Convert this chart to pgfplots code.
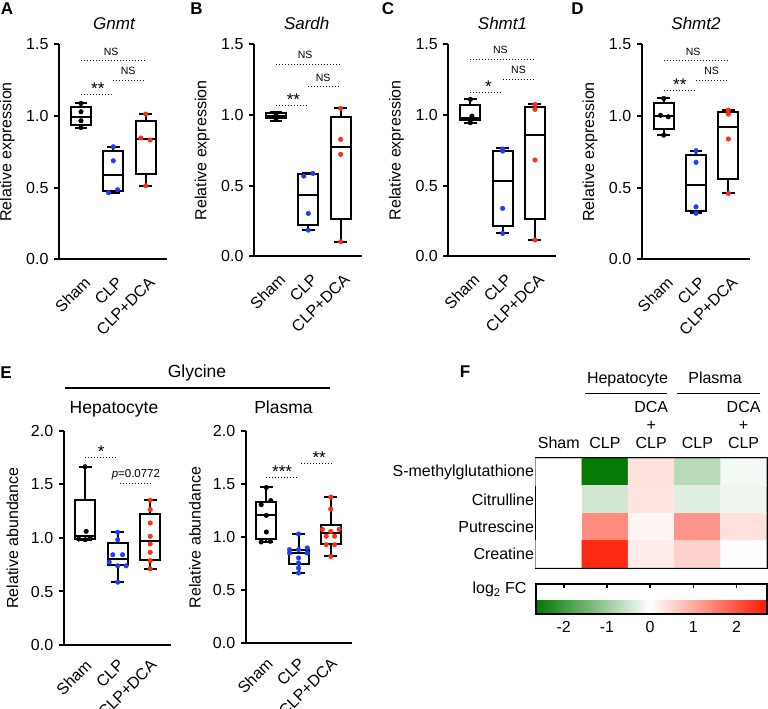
\documentclass[border=0pt]{standalone}
\usepackage{fontspec}
\setmainfont{Liberation Sans}
\usepackage{pgfplots}
\pgfplotsset{compat=1.18}
\usepgfplotslibrary{statistics}
\definecolor{cblue}{RGB}{30,60,255}
\definecolor{cred}{RGB}{255,45,20}
\pgfplotsset{
 bx/.style={
   scale only axis, width=108pt,
   axis lines=left, axis line style={line width=2pt,-},
   xmin=-0.68, xmax=2.66, ymin=0,
   xtick={0,1,2}, xticklabels={Sham,CLP,CLP+DCA},
   xticklabel style={rotate=45, anchor=north east, xshift=-1pt, yshift=-4pt},
   xtick style={draw=none},
   ytick style={line width=2pt, black},
   major tick length=5pt, tick align=outside,
   yticklabel style={/pgf/number format/.cd, fixed, fixed zerofill, precision=1},
   /pgf/number format/assume math mode=true,
   ylabel style={at={(axis description cs:-0.48,0.5)}, anchor=center},
   clip=false,
   boxplot/draw direction=y,
   boxplot/box extend=0.62,
   boxplot/whisker extend=0.4,
 },
 bxp/.style={black, line width=2pt, solid},
 dots/.style={only marks, mark=*, mark size=2.3pt},
}
\tikzset{
 sig/.style={line width=1.1pt, dash pattern=on 1.1pt off 1.9pt},
 star/.style={anchor=base, font=\fontsize{17}{17}\selectfont, inner sep=0pt},
 ns/.style={anchor=base, font=\fontsize{10.5}{11}\selectfont, yshift=5.5pt, inner sep=0pt},
 ttl/.style={anchor=base, font=\fontsize{17}{19}\selectfont},
 etl/.style={anchor=base, font=\fontsize{17.5}{19}\selectfont},
 letter/.style={anchor=base, font=\fontsize{17}{17}\selectfont\bfseries},
}
\begin{document}
\fontsize{16}{19}\selectfont
\begin{tikzpicture}[x=1pt,y=1pt]
\path[use as bounding box] (0,0) rectangle (768,709);

% ---------------- Panel A
\begin{axis}[bx, at={(59pt,449.6pt)}, anchor=south west, height=215pt, ymax=1.5,
  ytick={0,0.5,1,1.5}, ylabel={Relative expression}]
\addplot[bxp, boxplot prepared={draw position=0, lower whisker=0.92, lower quartile=0.937, median=0.995, upper quartile=1.065, upper whisker=1.088}] coordinates {};
\addplot[bxp, boxplot prepared={draw position=1, lower whisker=0.465, lower quartile=0.477, median=0.588, upper quartile=0.756, upper whisker=0.786}] coordinates {};
\addplot[bxp, boxplot prepared={draw position=2, lower whisker=0.514, lower quartile=0.595, median=0.84, upper quartile=0.965, upper whisker=1.014}] coordinates {};
\addplot[dots, black] coordinates {(0,1.088) (0,1.03) (0,0.967) (0,0.92)};
\addplot[dots, cblue] coordinates {(1,0.786) (1,0.688) (1.13,0.486) (0.85,0.465)};
\addplot[dots, cred] coordinates {(2,1.014) (1.85,0.847) (2.14,0.833) (2,0.514)};
\draw[sig] (axis cs:0,1.153) -- (axis cs:1,1.153);
\node[star] at (axis cs:0.52,1.153) {**};
\draw[sig] (axis cs:0,1.386) -- (axis cs:2,1.386);
\node[ns] at (axis cs:0.93,1.386) {NS};
\draw[sig] (axis cs:1,1.251) -- (axis cs:2,1.251);
\node[ns] at (axis cs:1.46,1.251) {NS};
\end{axis}

% ---------------- Panel B
\begin{axis}[bx, at={(254pt,452.6pt)}, anchor=south west, height=212pt, ymax=1.5,
  ytick={0,0.5,1,1.5}, ylabel={Relative expression}]
\addplot[bxp, boxplot prepared={draw position=0, lower whisker=0.96, lower quartile=0.976, median=0.993, upper quartile=1.012, upper whisker=1.024}] coordinates {};
\addplot[bxp, boxplot prepared={draw position=1, lower whisker=0.186, lower quartile=0.222, median=0.434, upper quartile=0.58, upper whisker=0.587}] coordinates {};
\addplot[bxp, boxplot prepared={draw position=2, lower whisker=0.104, lower quartile=0.264, median=0.776, upper quartile=0.983, upper whisker=1.047}] coordinates {};
\addplot[dots, black] coordinates {(0,1.01) (0,0.995) (0,0.99) (0,0.975)};
\addplot[dots, cblue] coordinates {(0.86,0.568) (1.14,0.587) (1,0.304) (1,0.186)};
\addplot[dots, cred] coordinates {(2,1.047) (2,0.828) (2,0.722) (2,0.104)};
\draw[sig] (axis cs:0,1.066) -- (axis cs:1,1.066);
\node[star] at (axis cs:0.54,1.066) {**};
\draw[sig] (axis cs:0,1.358) -- (axis cs:2,1.358);
\node[ns] at (axis cs:0.9,1.358) {NS};
\draw[sig] (axis cs:1,1.2) -- (axis cs:2,1.2);
\node[ns] at (axis cs:1.46,1.2) {NS};
\end{axis}

% ---------------- Panel C
\begin{axis}[bx, at={(448.3pt,452.6pt)}, anchor=south west, height=212pt, ymax=1.5,
  ytick={0,0.5,1,1.5}, ylabel={Relative expression}]
\addplot[bxp, boxplot prepared={draw position=0, lower whisker=0.946, lower quartile=0.965, median=0.98, upper quartile=1.071, upper whisker=1.111}] coordinates {};
\addplot[bxp, boxplot prepared={draw position=1, lower whisker=0.163, lower quartile=0.217, median=0.533, upper quartile=0.748, upper whisker=0.769}] coordinates {};
\addplot[bxp, boxplot prepared={draw position=2, lower whisker=0.116, lower quartile=0.264, median=0.858, upper quartile=1.059, upper whisker=1.075}] coordinates {};
\addplot[dots, black] coordinates {(0,1.111) (0.05,0.993) (0,0.965) (0,0.946)};
\addplot[dots, cblue] coordinates {(1,0.76) (1,0.745) (1,0.34) (1,0.163)};
\addplot[dots, cred] coordinates {(2,1.075) (2,1.04) (2,0.682) (2,0.116)};
\draw[sig] (axis cs:0,1.158) -- (axis cs:1,1.158);
\node[star] at (axis cs:0.56,1.158) {*};
\draw[sig] (axis cs:0,1.394) -- (axis cs:2,1.394);
\node[ns] at (axis cs:0.93,1.394) {NS};
\draw[sig] (axis cs:1,1.252) -- (axis cs:2,1.252);
\node[ns] at (axis cs:1.49,1.252) {NS};
\end{axis}

% ---------------- Panel D
\begin{axis}[bx, at={(641.7pt,449.6pt)}, anchor=south west, height=215pt, ymax=1.5,
  ytick={0,0.5,1,1.5}, ylabel={Relative expression}]
\addplot[bxp, boxplot prepared={draw position=0, lower whisker=0.867, lower quartile=0.907, median=1.0, upper quartile=1.088, upper whisker=1.123}] coordinates {};
\addplot[bxp, boxplot prepared={draw position=1, lower whisker=0.321, lower quartile=0.337, median=0.519, upper quartile=0.728, upper whisker=0.758}] coordinates {};
\addplot[bxp, boxplot prepared={draw position=2, lower whisker=0.46, lower quartile=0.56, median=0.926, upper quartile=1.03, upper whisker=1.042}] coordinates {};
\addplot[dots, black] coordinates {(0,1.123) (-0.1,1.005) (0.14,0.995) (0,0.867)};
\addplot[dots, cblue] coordinates {(1,0.758) (1,0.677) (1,0.367) (1,0.321)};
\addplot[dots, cred] coordinates {(2,1.042) (2,1.014) (2,0.84) (2,0.46)};
\draw[sig] (axis cs:0,1.177) -- (axis cs:1,1.177);
\node[star] at (axis cs:0.5,1.177) {**};
\draw[sig] (axis cs:0,1.386) -- (axis cs:2,1.386);
\node[ns] at (axis cs:0.91,1.386) {NS};
\draw[sig] (axis cs:1,1.251) -- (axis cs:2,1.251);
\node[ns] at (axis cs:1.48,1.251) {NS};
\end{axis}

% titles and letters A-D
\node[ttl] at (114,679) {\itshape Gnmt};
\node[ttl] at (306.7,679) {\itshape Sardh};
\node[ttl] at (502.5,679) {\itshape Shmt1};
\node[ttl] at (696,679) {\itshape Shmt2};
\node[letter] at (7,694) {A};
\node[letter] at (196.5,694) {B};
\node[letter] at (388,694) {C};
\node[letter] at (577.5,694) {D};

% ---------------- Panel E left
\begin{axis}[bx, at={(63.7pt,64pt)}, anchor=south west, height=214pt, ymax=2, width=107pt,
  xmin=-0.66, xmax=2.63, xticklabel style={yshift=4pt},
  ytick={0,0.5,1,1.5,2}, ylabel={Relative abundance}]
\addplot[bxp, boxplot prepared={draw position=0, lower whisker=0.984, lower quartile=0.995, median=1.02, upper quartile=1.353, upper whisker=1.666}] coordinates {};
\addplot[bxp, boxplot prepared={draw position=1, lower whisker=0.5875, lower quartile=0.75, median=0.803, upper quartile=0.953, upper whisker=1.053}] coordinates {};
\addplot[bxp, boxplot prepared={draw position=2, lower whisker=0.7125, lower quartile=0.797, median=0.975, upper quartile=1.228, upper whisker=1.353}] coordinates {};
\addplot[dots, black] coordinates {(0,1.666) (0.03,1.062) (-0.2,0.99) (0.15,1.0) (0,0.984)};
\addplot[dots, cblue] coordinates {(1,1.053) (1,0.984) (0.85,0.844) (1.15,0.844) (0.74,0.775) (1,0.74) (1.26,0.74) (1,0.5875)};
\addplot[dots, cred] coordinates {(2,1.353) (2,1.266) (2,1.14) (2,1.016) (2,0.944) (2,0.866) (2,0.788) (2,0.7125)};
\draw[sig] (axis cs:0,1.756) -- (axis cs:1,1.756);
\node[star] at (axis cs:0.49,1.756) {*};
\draw[sig] (axis cs:1.08,1.506) -- (axis cs:2.08,1.506);
\node[anchor=base, font=\fontsize{11.5}{12}\selectfont, yshift=6pt, inner sep=0pt] at (axis cs:1.56,1.506) {\textit{p}=0.0772};
\end{axis}

% ---------------- Panel E right
\begin{axis}[bx, at={(245.7pt,65.7pt)}, anchor=south west, height=212pt, ymax=2, width=106pt,
  xmin=-0.64, xmax=2.65, xticklabel style={yshift=4pt},
  ytick={0,0.5,1,1.5,2}, ylabel={Relative abundance}]
\addplot[bxp, boxplot prepared={draw position=0, lower whisker=0.956, lower quartile=0.987, median=1.207, upper quartile=1.333, upper whisker=1.47}] coordinates {};
\addplot[bxp, boxplot prepared={draw position=1, lower whisker=0.663, lower quartile=0.748, median=0.852, upper quartile=0.884, upper whisker=1.031}] coordinates {};
\addplot[bxp, boxplot prepared={draw position=2, lower whisker=0.82, lower quartile=0.937, median=1.04, upper quartile=1.119, upper whisker=1.38}] coordinates {};
\addplot[dots, black] coordinates {(0,1.47) (-0.16,1.308) (0.14,1.346) (0,1.207) (0,1.05) (-0.16,0.956) (0.12,0.962)};
\addplot[dots, cblue] coordinates {(1,1.031) (0.72,0.884) (1,0.884) (1.27,0.9) (0.72,0.852) (1.27,0.852) (1,0.805) (1,0.758) (1,0.71) (1,0.663)};
\addplot[dots, cred] coordinates {(2,1.38) (2,1.267) (1.74,1.075) (2,1.055) (2.26,1.075) (1.86,1.01) (2.12,1.01) (1.86,0.93) (2.12,0.93) (2,0.82)};
\draw[sig] (axis cs:0,1.566) -- (axis cs:1,1.566);
\node[star] at (axis cs:0.49,1.566) {***};
\draw[sig] (axis cs:1.08,1.692) -- (axis cs:2.09,1.692);
\node[star] at (axis cs:1.64,1.692) {**};
\end{axis}

% E headers
\node[letter] at (6,330) {E};
\node[etl] at (197,331) {Glycine};
\draw[line width=1.3pt] (65,321) -- (330,321);
\node[etl] at (114,295) {Hepatocyte};
\node[etl] at (283.5,295) {Plasma};

% ---------------- Panel F heatmap
\begin{axis}[at={(535.7pt,141.3pt)}, anchor=south west, scale only axis,
  width=231pt, height=109.4pt,
  xmin=-0.5, xmax=4.5, ymin=-0.5, ymax=3.5, y dir=reverse,
  xtick=\empty, ytick={0,1,2,3},
  yticklabels={S-methylglutathione, Citrulline, Putrescine, Creatine},
  ytick style={draw=none}, yticklabel style={inner xsep=1.5pt},
  axis line style={line width=2.2pt},
  colormap={gwr}{rgb255(0cm)=(0,120,0); rgb255(2.65cm)=(255,255,255); rgb255(5.35cm)=(255,25,0)},
  point meta min=-2.65, point meta max=2.70,
  colorbar horizontal,
  colorbar style={at={(parent axis.south west)}, anchor=north west, yshift=-8pt,
    scale only axis, width=231pt, height=30pt,
    xtick={-2,-1,0,1,2}, xtick pos=right, xticklabel pos=left,
    major tick length=4pt, tick align=inside,
    xtick style={black, line width=1.5pt},
    axis line style={line width=2.2pt},
    /pgf/number format/assume math mode=true,
    xticklabel style={yshift=-2pt}},
]
\addplot[matrix plot*, mesh/cols=5, point meta=explicit] table[meta=c] {
x y c
0 0 0
1 0 -2.6
2 0 0.35
3 0 -0.73
4 0 -0.12
0 1 0
1 1 -0.47
2 1 0.32
3 1 -0.31
4 1 -0.18
0 2 0
1 2 1.35
2 2 0.12
3 2 1.24
4 2 0.35
0 3 0
1 3 2.5
2 3 0.23
3 3 0.54
4 3 0.02
};
\end{axis}

% F headers
\node[letter] at (465,331) {F};
\node[anchor=base] at (627.5,325) {Hepatocyte};
\node[anchor=base] at (715,325) {Plasma};
\draw[line width=1.3pt] (585,315.7) -- (667,315.7);
\draw[line width=1.3pt] (677,315.7) -- (760,315.7);
\node[anchor=base] at (558.8,260.7) {Sham};
\node[anchor=base] at (605,260.7) {CLP};
\node[anchor=base] at (651.2,296.3) {DCA};
\node[anchor=base] at (651.2,278.5) {+};
\node[anchor=base] at (651.2,260.7) {CLP};
\node[anchor=base] at (697.4,260.7) {CLP};
\node[anchor=base] at (743.6,296.3) {DCA};
\node[anchor=base] at (743.6,278.5) {+};
\node[anchor=base] at (743.6,260.7) {CLP};
\node[anchor=base east] at (532,115) {log\textsubscript{2} FC};
\end{tikzpicture}
\end{document}
